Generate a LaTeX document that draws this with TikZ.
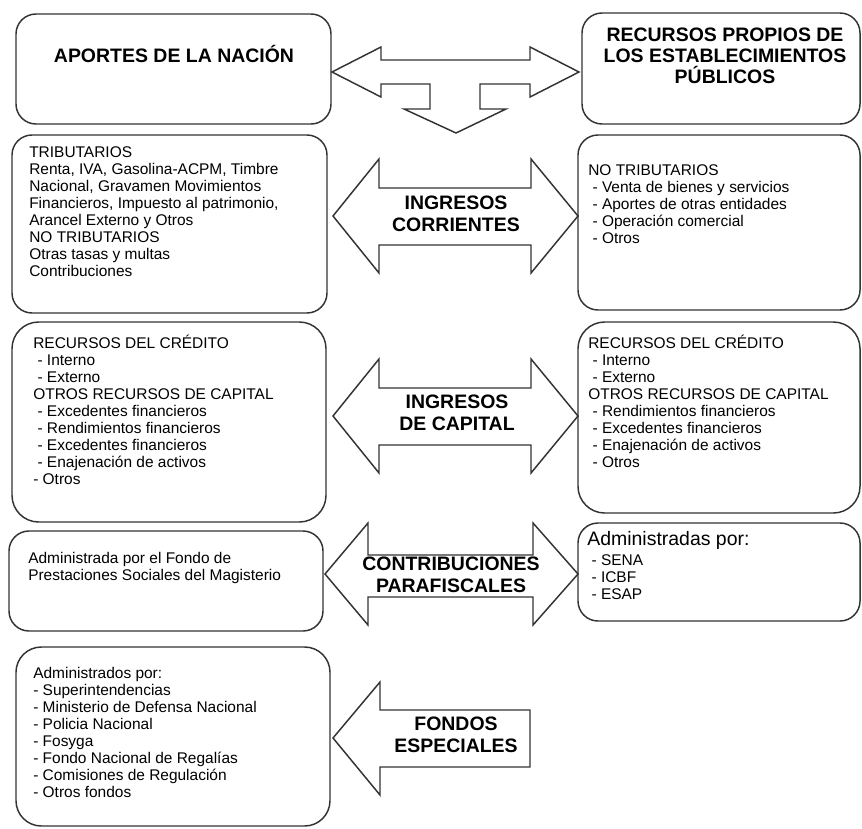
\documentclass[tikz,border=0pt]{standalone}
\usepackage{fontspec}
\setmainfont{Liberation Sans}
\begin{document}
\begin{tikzpicture}[x=0.75pt,y=-0.75pt,
  caja/.style={draw=black!80, line width=1.1pt, rounded corners=15pt},
  flecha/.style={draw=black!80, line width=1.1pt, fill=white, line join=miter},
  texto/.style={anchor=base west, inner sep=0pt, align=left, font=\fontsize{11.6}{12.75}\selectfont},
  titulo/.style={anchor=base, inner sep=0pt, align=center, font=\fontsize{14.6}{15.4}\selectfont\bfseries},
  rotulo/.style={anchor=base, inner sep=0pt, align=center, font=\fontsize{14.6}{16.5}\selectfont\bfseries}]

\useasboundingbox (0,0) rectangle (862,828);

%cajas

\draw[caja] (16,14) rectangle (331,124);
\draw[caja] (582,13) rectangle (860,124);
\draw[caja] (12,135) rectangle (327,313);
\draw[caja] (578,135) rectangle (860,310);
\draw[caja, rounded corners=20pt] (12,322) rectangle (326,522);
\draw[caja, rounded corners=20pt] (578,322) rectangle (860,513);
\draw[caja] (9,531) rectangle (323,631);
\draw[caja] (578,523) rectangle (860,621);
\draw[caja, rounded corners=19pt] (16,647) rectangle (330,826);

%flechas

\draw[flecha] (332,72) -- (381,47) -- (381,60) -- (530,60) -- (530,47) -- (579,72)
  -- (530,97) -- (530,84) -- (480,84) -- (480,109) -- (506,109) -- (456,133)
  -- (404,109) -- (430,109) -- (430,84) -- (381,84) -- (381,97) -- cycle;
\foreach \y in {216,416}
  \draw[flecha] (333,\y) -- (379,\y-57) -- (379,\y-28) -- (531,\y-28) -- (531,\y-57)
    -- (578,\y) -- (531,\y+57) -- (531,\y+29) -- (379,\y+29) -- (379,\y+57) -- cycle;
\draw[flecha] (325,574) -- (368,523) -- (368,555) -- (533,555) -- (533,523) -- (578,574)
  -- (533,625) -- (533,597) -- (368,597) -- (368,625) -- cycle;
\draw[flecha] (333,738) -- (380,682) -- (380,710) -- (530,710) -- (530,767)
  -- (380,767) -- (380,795) -- cycle;

%textos (anclados en la línea base de la última fila)

\node[titulo] (nacion) at (174,62) {APORTES DE LA NACIÓN};
\node[titulo] (propios) at (725,83) {RECURSOS PROPIOS DE\\LOS ESTABLECIMIENTOS\\PÚBLICOS};

\node[rotulo] (corrientes) at (456,231) {INGRESOS\\CORRIENTES};
\node[rotulo] (capital) at (457,430) {INGRESOS\\DE CAPITAL};
\node[rotulo] (parafiscales) at (451,592) {CONTRIBUCIONES\\PARAFISCALES};
\node[rotulo] (especiales) at (456,752) {FONDOS\\ESPECIALES};

\node[texto] (tribnacion) at (29,276) {TRIBUTARIOS\\Renta, IVA, Gasolina-ACPM, Timbre\\Nacional, Gravamen Movimientos\\Financieros, Impuesto al patrimonio,\\Arancel Externo y Otros\\NO TRIBUTARIOS\\Otras tasas y multas\\Contribuciones};
\node[texto] (tribpropios) at (588,243) {NO TRIBUTARIOS\\\ - Venta de bienes y servicios\\\ - Aportes de otras entidades\\\ - Operación comercial\\\ - Otros};
\node[texto] (capnacion) at (33,484) {RECURSOS DEL CRÉDITO\\\ - Interno\\\ - Externo\\OTROS RECURSOS DE CAPITAL\\\ - Excedentes financieros\\\ - Rendimientos financieros\\\ - Excedentes financieros\\\ - Enajenación de activos\\- Otros};
\node[texto] (cappropios) at (588,467) {RECURSOS DEL CRÉDITO\\\ - Interno\\\ - Externo\\OTROS RECURSOS DE CAPITAL\\\ - Rendimientos financieros\\\ - Excedentes financieros\\\ - Enajenación de activos\\\ - Otros};
\node[texto] (magisterio) at (28,580) {Administrada por el Fondo de\\Prestaciones Sociales del Magisterio};
\node[texto, font=\fontsize{14.6}{15.4}\selectfont] (admpara) at (587,545) {Administradas por:};
\node[texto] (entidades) at (587,599) {\ - SENA\\\ - ICBF\\\ - ESAP};
\node[texto] (fondos) at (33,797) {Administrados por:\\- Superintendencias\\- Ministerio de Defensa Nacional\\- Policia Nacional\\- Fosyga\\- Fondo Nacional de Regalías\\- Comisiones de Regulación\\- Otros fondos};
\end{tikzpicture}
\end{document}
